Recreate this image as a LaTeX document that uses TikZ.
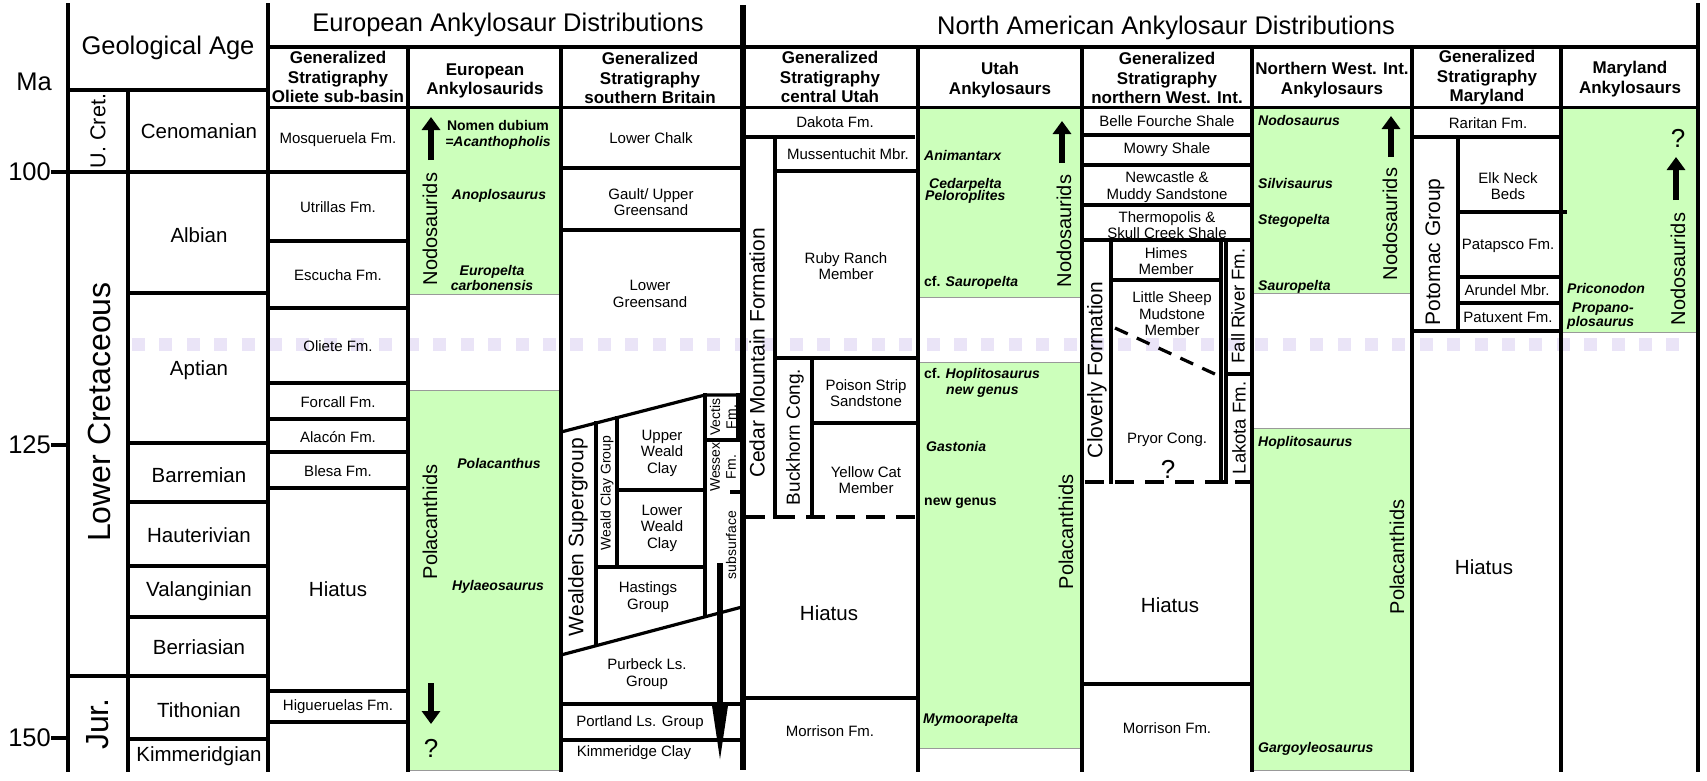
\documentclass[tikz,border=0pt]{standalone}
\usepackage{fontspec}
\setmainfont{Liberation Sans}
\usetikzlibrary{arrows.meta}
\definecolor{rangegreen}{RGB}{204,255,187}
\definecolor{lavender}{RGB}{234,228,247}
\tikzset{
  gridline/.style={line width=3.2pt, line cap=rect},
  dashrule/.style={line width=3.2pt, dash pattern=on 19pt off 11pt},
  greenbox/.style={fill=rangegreen, draw=black!40, line width=0.8pt},
  bigtext/.style={font=\fontsize{25.5}{28}\selectfont},
  head/.style={font=\bfseries\fontsize{17}{19.5}\selectfont, align=center},
  stage/.style={font=\fontsize{20.5}{23}\selectfont},
  fm/.style={font=\fontsize{15}{16.5}\selectfont, align=center},
  smallrot/.style={rotate=90, font=\fontsize{14}{16}\selectfont, align=center},
  taxon/.style={font=\bfseries\itshape\fontsize{14}{15.5}\selectfont, align=center},
  clade/.style={rotate=90, font=\fontsize{20}{22}\selectfont},
  unit/.style={rotate=90, font=\fontsize{21}{23}\selectfont},
  query/.style={font=\fontsize{26}{28}\selectfont},
  fatarrow/.style={line width=6.5pt, -{Triangle[length=13pt,width=18pt]}}
}
\begin{document}
\begin{tikzpicture}[x=1pt,y=-1pt,every node/.style={inner sep=0pt}]
\useasboundingbox (0,0) rectangle (1707,780);

% ranges
\path[greenbox] (408,108) rectangle (561,294);
\path[greenbox] (408,390) rectangle (561,770);
\path[greenbox] (918,107) rectangle (1082,297);
\path[greenbox] (918,362) rectangle (1082,748);
\path[greenbox] (1252,107) rectangle (1412,293);
\path[greenbox] (1252,428) rectangle (1412,770);
\path[greenbox] (1561,107) rectangle (1698,332);

\draw[lavender, line width=13pt, dash pattern=on 13pt off 14.4pt] (132,344) -- (1690,344);

\begin{scope}[gridline]
  \draw (68,5) -- (68,770);
  \draw (268,5) -- (268,770);
  \draw (1698,5) -- (1698,770);
  \draw (128,90) -- (128,770);
  \foreach \x in {408,561,918,1082,1252,1412,1561}
    \draw (\x,47) -- (\x,770);
  \draw (68,90) -- (268,90);
  \draw (268,47) -- (1698,47);
  \draw (268,107.5) -- (1698,107.5);
  \foreach \y in {172,676}
    \draw (68,\y) -- (268,\y);
  \foreach \y in {293,443,502,566,617,739}
    \draw (128,\y) -- (268,\y);
  \foreach \y in {172,241,308,383,419,452,488,691,722}
    \draw (268,\y) -- (408,\y);

  \foreach \y in {168,230,704,740}
    \draw (561,\y) -- (740,\y);
  \draw (561,432) -- (705,395) -- (740,395);
  \draw (561,655) -- (742,607);
  \draw (596,423) -- (596,645.7);
  \draw (617,417.6) -- (617,567);
  \draw (705,395) -- (705,616.8);
  \draw (617,490) -- (705,490);
  \draw (596,567) -- (705,567);
  \draw (705,440) -- (738,440);
  \draw (738,395) -- (738,440);
  \draw (732,492) -- (738,492);

  \draw (743,137) -- (913,137);
  \draw (775,137) -- (775,517);
  \draw (775,171) -- (918,171);
  \draw (775,358) -- (918,358);
  \draw (812,358) -- (812,517);
  \draw (812,423) -- (918,423);
  \draw (743,698) -- (918,698);

  \foreach \y in {135,165,205,240,684}
    \draw (1082,\y) -- (1252,\y);
  \draw (1111,240) -- (1111,482);
  \draw (1221,240) -- (1221,482);
  \draw (1226,240) -- (1226,482);
  \draw (1111,280) -- (1221,280);
  \draw (1226,374) -- (1252,374);

  \draw (1412,137) -- (1561,137);
  \draw (1458,137) -- (1458,331);
  \draw (1458,212) -- (1565,212);
  \draw (1458,277) -- (1561,277);
  \draw (1458,303) -- (1561,303);
  \draw (1412,331) -- (1561,331);
\end{scope}
\draw[line width=6pt] (743,5) -- (743,770);
\draw[dashrule] (746,517) -- (918,517);
\draw[dashrule] (1085,482) -- (1252,482);
\draw[dashrule, dash pattern=on 14pt off 10pt] (1115,328) -- (1217,375);

% titles
\node[bigtext] (eutitle) at (508,25) {European Ankylosaur Distributions};
\node[bigtext] (natitle) at (1166,28) {North American Ankylosaur Distributions};
\node[bigtext] (geoage) at (168,48) {Geological Age};
\node[bigtext] (ma) at (34,82) {Ma};
\foreach \y/\age in {172/100,445/125,738/150} {
  \draw[gridline] (53,\y) -- (68,\y);
  \node[bigtext, anchor=east] (ma\age) at (51,\y) {\age};
}

\node[head] (olietehead) at (338,77) {Generalized\\Stratigraphy\\Oliete sub-basin};
\node[head] (euankhead) at (485,81) {European\\Ankylosaurids};
\node[head] (brithead) at (650,78) {Generalized\\Stratigraphy\\southern Britain};
\node[head] (utahhead) at (830,77) {Generalized\\Stratigraphy\\central Utah};
\node[head] (utankhead) at (1000,80) {Utah\\Ankylosaurs};
\node[head] (nwihead) at (1167,78) {Generalized\\Stratigraphy\\northern West. Int.};
\node[head] (nwiankhead) at (1332,80) {Northern West. Int.\\Ankylosaurs};
\node[head] (mdhead) at (1487,78) {Generalized\\Stratigraphy\\Maryland};
\node[head] (mdankhead) at (1630,79) {Maryland\\Ankylosaurs};

% time scale
\node[unit, font=\fontsize{21.5}{23}\selectfont] (ucret) at (98,131) {U. Cret.};
\node[unit, font=\fontsize{32}{34}\selectfont] (lcret) at (99,412) {Lower Cretaceous};
\node[unit, font=\fontsize{32}{34}\selectfont] (jur) at (98,724) {Jur.};
\foreach \st/\y in {Cenomanian/131,Albian/235,Aptian/370,Barremian/475,Hauterivian/535,
    Valanginian/591,Berriasian/647,Tithonian/710,Kimmeridgian/756}
  \node[stage] (\st) at (199,\y) {\st};

% Oliete sub-basin
\foreach \fmname/\y [count=\i] in {Mosqueruela Fm./140,Utrillas Fm./207,Escucha Fm./275,
    Oliete Fm./346,Forcall Fm./402,Alacón Fm./437,Blesa Fm./471,Higueruelas Fm./707}
  \node[fm] (ol\i) at (338,\y) {\fmname};
\node[stage] (olhiatus) at (338,589) {Hiatus};

% southern Britain
\node[fm] (lowerchalk) at (651,138) {Lower Chalk};
\node[fm] (gault) at (651,202) {Gault/ Upper\\Greensand};
\node[fm] (lowergreensand) at (650,294) {Lower\\Greensand};
\node[fm] (upperweald) at (662,453) {Upper\\Weald\\Clay};
\node[fm] (lowerweald) at (662,528) {Lower\\Weald\\Clay};
\node[fm] (hastings) at (648,597) {Hastings\\Group};
\node[fm] (purbeck) at (647,674) {Purbeck Ls.\\Group};
\node[fm] (portland) at (640,723) {Portland Ls. Group};
\node[fm] (kimmeridge) at (634,753) {Kimmeridge Clay};
\node[unit] (wealden) at (578,537) {Wealden Supergroup};
\node[smallrot] (wealdclay) at (607,493) {Weald Clay Group};
\node[smallrot] (vectis) at (723,417) {Vectis\\Fm.};
\node[smallrot] (wessex) at (723,467) {Wessex\\Fm.};
\node[smallrot] (subsurface) at (731,545) {subsurface};
\draw[line width=6pt, -{Triangle[length=58pt,width=14pt]}] (720,563) -- (720,764);

% central Utah
\node[fm] (dakota) at (835,122) {Dakota Fm.};
\node[fm] (mussentuchit) at (848,154) {Mussentuchit Mbr.};
\node[fm] (rubyranch) at (846,266) {Ruby Ranch\\Member};
\node[fm] (poisonstrip) at (866,393) {Poison Strip\\Sandstone};
\node[fm] (yellowcat) at (866,480) {Yellow Cat\\Member};
\node[unit] (cedarmtn) at (757,353) {Cedar Mountain Formation};
\node[unit, font=\fontsize{19}{21}\selectfont] (buckhorn) at (795,437) {Buckhorn Cong.};
\node[stage] (uthiatus) at (829,613) {Hiatus};
\node[fm] (utmorrison) at (830,731) {Morrison Fm.};

% northern Western Interior
\node[fm] (bellefourche) at (1167,121) {Belle Fourche Shale};
\node[fm] (mowry) at (1167,150) {Mowry Shale};
\node[fm] (newcastle) at (1167,187) {Newcastle \&\\Muddy Sandstone};
\node[fm] (thermopolis) at (1167,225) {Thermopolis \&\\Skull Creek Shale};
\node[fm] (himes) at (1166,261) {Himes\\Member};
\node[fm] (littlesheep) at (1172,314) {Little Sheep\\Mudstone\\Member};
\node[fm] (pryor) at (1167,440) {Pryor Cong.};
\node[query] (pryorq) at (1168,469) {?};
\node[unit] (cloverly) at (1097,370) {Cloverly Formation};
\node[unit, font=\fontsize{18.5}{20}\selectfont] (fallriver) at (1238,306) {Fall River Fm.};
\node[unit, font=\fontsize{18.5}{20}\selectfont] (lakota) at (1239,428) {Lakota Fm.};
\node[stage] (nwihiatus) at (1170,605) {Hiatus};
\node[fm] (nwimorrison) at (1167,728) {Morrison Fm.};

% Maryland
\node[fm] (raritan) at (1488,123) {Raritan Fm.};
\node[fm] (elkneck) at (1508,186) {Elk Neck\\Beds};
\node[fm] (patapsco) at (1508,246) {Patapsco Fm.};
\node[fm] (arundel) at (1507,290) {Arundel Mbr.};
\node[fm] (patuxent) at (1508,317) {Patuxent Fm.};
\node[unit] (potomac) at (1435,252) {Potomac Group};
\node[stage] (mdhiatus) at (1484,567) {Hiatus};

% European taxa
\node[taxon] (nomendubium) at (498,135) {{\upshape Nomen dubium}\\=Acanthopholis};
\node[taxon] (anoplosaurus) at (499,196) {Anoplosaurus};
\node[taxon] (europelta) at (492,278) {Europelta\\carbonensis};
\node[taxon] (polacanthus) at (499,463) {Polacanthus};
\node[taxon] (hylaeosaurus) at (498,587) {Hylaeosaurus};
\node[clade] (eunodo) at (430,229) {Nodosaurids};
\node[clade] (eupola) at (430,522) {Polacanthids};
\draw[fatarrow] (431,160) -- (431,117);
\draw[fatarrow] (431,683) -- (431,724);
\node[query] (euq) at (431,748) {?};

% Utah taxa
\begin{scope}[every node/.append style={taxon, anchor=west}]
  \node (animantarx) at (924,155) {Animantarx};
  \node (cedarpelta) at (929,185) {Cedarpelta};
  \node (peloroplites) at (925,197) {Peloroplites};
  \node (utsauropelta) at (924,283) {{\upshape cf.} Sauropelta};
  \node (uthoplito) at (924,375) {{\upshape cf.} Hoplitosaurus};
  \node (utnewgenus) at (946,392) {new genus};
  \node (gastonia) at (926,446) {Gastonia};
  \node (newgenus) at (924,503) {\upshape new genus};
  \node (mymoorapelta) at (923,720) {Mymoorapelta};
\end{scope}
\node[clade] (utnodo) at (1064,231) {Nodosaurids};
\node[clade] (utpola) at (1066,532) {Polacanthids};
\draw[fatarrow] (1062,163) -- (1062,121);

% northern Western Interior taxa
\begin{scope}[every node/.append style={taxon, anchor=west}]
  \node (nodosaurus) at (1258,120) {Nodosaurus};
  \node (silvisaurus) at (1258,183) {Silvisaurus};
  \node (stegopelta) at (1258,221) {Stegopelta};
  \node (nwisauropelta) at (1258,287) {Sauropelta};
  \node (nwihoplito) at (1258,443) {Hoplitosaurus};
  \node (gargoyleosaurus) at (1258,749) {Gargoyleosaurus};
\end{scope}
\node[clade] (nwinodo) at (1390,224) {Nodosaurids};
\node[clade] (nwipola) at (1397,557) {Polacanthids};
\draw[fatarrow] (1391,157) -- (1391,116);

% Maryland taxa
\begin{scope}[every node/.append style={taxon, anchor=west}]
  \node (priconodon) at (1567,288) {Priconodon};
  \node (propano) at (1572,309) {Propano-};
  \node (plosaurus) at (1567,323) {plosaurus};
\end{scope}
\node[clade] (mdnodo) at (1678,269) {Nodosaurids};
\draw[fatarrow] (1676,200) -- (1676,157);
\node[query] (mdq) at (1678,138) {?};

\end{tikzpicture}
\end{document}
